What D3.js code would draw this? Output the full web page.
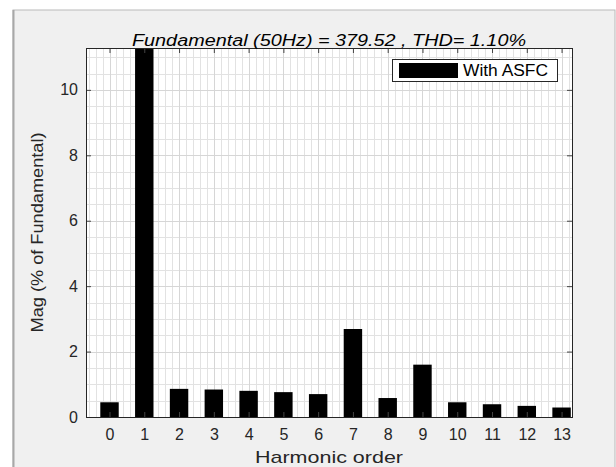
<!DOCTYPE html>
<html>
<head>
<meta charset="utf-8">
<title>harmonic spectrum</title>
<script src="https://cdn.jsdelivr.net/npm/d3@7"></script>
<style>
  html, body { margin: 0; padding: 0; background: #ffffff; }
  svg { display: block; font-family: 'Liberation Sans', Arial, sans-serif; }
  .tick text { fill: #262626; }
</style>
</head>
<body>
<script>
// harmonic orders and magnitude (% of fundamental)
var harmonics = [0, 1, 2, 3, 4, 5, 6, 7, 8, 9, 10, 11, 12, 13];
var mag = [0.45, 100, 0.86, 0.84, 0.80, 0.76, 0.70, 2.69, 0.58, 1.60, 0.45, 0.39, 0.34, 0.29];
var yTicks = [0, 2, 4, 6, 8, 10];
var titleText = 'Fundamental (50Hz) = 379.52 , THD= 1.10%';
var legendLabel = 'With ASFC';

var W = 616, H = 467;
// plot box (note: "top" is taken by window.top, so prefix these)
var pLeft = 86, pRight = 572, pTop = 48, pBottom = 417;

var svg = d3.select('body').append('svg')
  .attr('width', W)
  .attr('height', H);

// figure panel
svg.append('rect')
  .attr('x', 13).attr('y', 10)
  .attr('width', 602).attr('height', 470)
  .attr('fill', '#f0f0f0')
  .attr('stroke', '#b9b9b9')
  .attr('stroke-width', 1);
svg.append('line')
  .attr('x1', 13.5).attr('x2', 13.5).attr('y1', 10).attr('y2', H)
  .attr('stroke', '#a8a8a8').attr('stroke-width', 2);

var x = d3.scaleLinear().domain([-0.676, 13.3]).range([pLeft, pRight]);
var y = d3.scaleLinear().domain([0, 11.28]).range([pBottom, pTop]);

svg.append('rect')
  .attr('x', pLeft).attr('y', pTop)
  .attr('width', pRight - pLeft).attr('height', pBottom - pTop)
  .attr('fill', '#ffffff');

svg.append('clipPath').attr('id', 'plotclip')
  .append('rect')
  .attr('x', pLeft).attr('y', pTop)
  .attr('width', pRight - pLeft).attr('height', pBottom - pTop);

var plot = svg.append('g').attr('clip-path', 'url(#plotclip)');

// minor grid
var xMinor = d3.range(-6, 134, 2).map(function (d) { return d / 10; });
var yMinor = d3.range(0, 12, 0.5);

plot.selectAll('.xminor').data(xMinor).enter().append('line')
  .attr('x1', function (d) { return Math.round(x(d)) + 0.5; })
  .attr('x2', function (d) { return Math.round(x(d)) + 0.5; })
  .attr('y1', pTop).attr('y2', pBottom)
  .attr('stroke', '#e2e2e2').attr('stroke-width', 1);

plot.selectAll('.yminor').data(yMinor).enter().append('line')
  .attr('x1', pLeft).attr('x2', pRight)
  .attr('y1', function (d) { return Math.round(y(d)) + 0.5; })
  .attr('y2', function (d) { return Math.round(y(d)) + 0.5; })
  .attr('stroke', '#e2e2e2').attr('stroke-width', 1);

// major grid
plot.selectAll('.xmajor').data(harmonics).enter().append('line')
  .attr('x1', function (d) { return Math.round(x(d)) + 0.5; })
  .attr('x2', function (d) { return Math.round(x(d)) + 0.5; })
  .attr('y1', pTop).attr('y2', pBottom)
  .attr('stroke', '#d6d6d6').attr('stroke-width', 1);

plot.selectAll('.ymajor').data(yTicks).enter().append('line')
  .attr('x1', pLeft).attr('x2', pRight)
  .attr('y1', function (d) { return Math.round(y(d)) + 0.5; })
  .attr('y2', function (d) { return Math.round(y(d)) + 0.5; })
  .attr('stroke', '#d6d6d6').attr('stroke-width', 1);

// bars
var bw = 0.53;
plot.selectAll('.bar').data(harmonics).enter().append('rect')
  .attr('x', function (d) { return x(d - bw / 2); })
  .attr('width', function (d) { return x(bw) - x(0); })
  .attr('y', function (d, i) { return y(mag[i]); })
  .attr('height', function (d, i) { return y(0) - y(mag[i]); })
  .attr('fill', '#000000');

// axes, ticks inside
var xAxis = d3.axisBottom(x).tickValues(harmonics).tickSize(-5).tickPadding(12).tickFormat(d3.format('d'));
var xTop = d3.axisTop(x).tickValues(harmonics).tickSize(-5).tickFormat('');
var yAxis = d3.axisLeft(y).tickValues(yTicks).tickSize(-5).tickPadding(8);
var yRight = d3.axisRight(y).tickValues(yTicks).tickSize(-5).tickFormat('');

function styleAxis(g) {
  g.select('.domain').remove();
  g.selectAll('.tick line').attr('stroke', '#444444');
  g.selectAll('.tick text').attr('font-size', 16);
}

svg.append('g').attr('transform', 'translate(0,' + pBottom + ')').call(xAxis).call(styleAxis);
svg.append('g').attr('transform', 'translate(0,' + pTop + ')').call(xTop).call(styleAxis);
svg.append('g').attr('transform', 'translate(' + pLeft + ',0)').call(yAxis).call(styleAxis);
svg.append('g').attr('transform', 'translate(' + pRight + ',0)').call(yRight).call(styleAxis);

svg.append('rect')
  .attr('x', pLeft + 0.5).attr('y', pTop + 0.5)
  .attr('width', pRight - pLeft).attr('height', pBottom - pTop)
  .attr('fill', 'none')
  .attr('stroke', '#262626').attr('stroke-width', 1);

// legend
var lg = svg.append('g').attr('transform', 'translate(392,59)');
lg.append('rect')
  .attr('x', 0.5).attr('y', 0.5).attr('width', 165).attr('height', 22)
  .attr('fill', '#ffffff').attr('stroke', '#262626').attr('stroke-width', 1);
lg.append('rect')
  .attr('x', 7).attr('y', 4).attr('width', 59).attr('height', 15)
  .attr('fill', '#000000');
lg.append('text')
  .attr('x', 71).attr('y', 17)
  .attr('font-size', 16).attr('fill', '#000000')
  .attr('textLength', 85).attr('lengthAdjust', 'spacingAndGlyphs')
  .text(legendLabel);

// title and labels
svg.append('text')
  .attr('x', (pLeft + pRight) / 2).attr('y', 46)
  .attr('text-anchor', 'middle')
  .attr('font-size', 16).attr('font-style', 'italic').attr('fill', '#000000')
  .attr('textLength', 394).attr('lengthAdjust', 'spacingAndGlyphs')
  .text(titleText);

svg.append('text')
  .attr('x', (pLeft + pRight) / 2).attr('y', 463)
  .attr('text-anchor', 'middle')
  .attr('font-size', 17).attr('fill', '#262626')
  .attr('textLength', 148).attr('lengthAdjust', 'spacingAndGlyphs')
  .text('Harmonic order');

svg.append('text')
  .attr('transform', 'translate(43,' + ((pTop + pBottom) / 2) + ') rotate(-90)')
  .attr('text-anchor', 'middle')
  .attr('font-size', 17).attr('fill', '#262626')
  .attr('textLength', 200).attr('lengthAdjust', 'spacingAndGlyphs')
  .text('Mag (% of Fundamental)');
</script>
</body>
</html>
